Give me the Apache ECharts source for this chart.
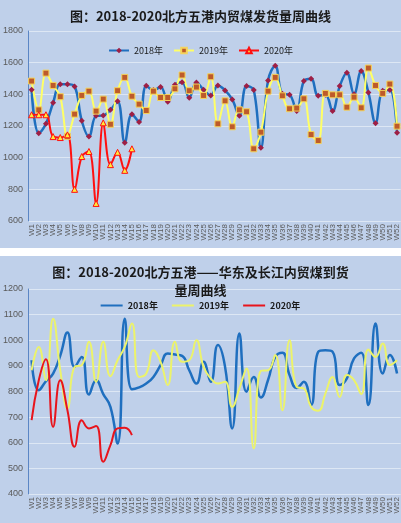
<!DOCTYPE html>
<html>
<head>
    <meta charset="utf-8">
    <title>北方五港内贸煤周曲线</title>
    <script src="https://cdn.jsdelivr.net/npm/echarts@6/dist/echarts.min.js"></script>
    <style>
        html, body {
            margin: 0;
            padding: 0;
            background: #ffffff;
        }

        .panel {
            position: absolute;
            left: 0;
            width: 401px;
            background-color: #bfd0ea;
        }
    </style>
</head>
<body>
<div id="ship-chart" class="panel" style="top:0;height:248px"></div>
<div id="arrive-chart" class="panel" style="top:256px;height:267px"></div>
<script>
    // 周次
    var weeks = ['W1', 'W2', 'W3', 'W4', 'W5', 'W6', 'W7', 'W8', 'W9', 'W10',
        'W11', 'W12', 'W13', 'W14', 'W15', 'W16', 'W17', 'W18', 'W19', 'W20',
        'W21', 'W22', 'W23', 'W24', 'W25', 'W26', 'W27', 'W28', 'W29', 'W30',
        'W31', 'W32', 'W33', 'W34', 'W35', 'W36', 'W37', 'W38', 'W39', 'W40',
        'W41', 'W42', 'W43', 'W44', 'W45', 'W46', 'W47', 'W48', 'W49', 'W50',
        'W51', 'W52'];

    // 发货量（上图）
    var ship2018 = [1429, 1154, 1214, 1347, 1463, 1463, 1450, 1233, 1133, 1264,
        1267, 1302, 1357, 1095, 1275, 1226, 1454, 1427, 1446, 1353,
        1461, 1477, 1378, 1475, 1429, 1393, 1456, 1425, 1368, 1264,
        1452, 1427, 1062, 1488, 1581, 1404, 1397, 1294, 1484, 1499,
        1391, 1397, 1294, 1452, 1537, 1401, 1547, 1412, 1218, 1423,
        1427, 1157];
    var ship2019 = [1484, 1302, 1534, 1456, 1385, 1135, 1275, 1393, 1420, 1294,
        1370, 1211, 1423, 1507, 1388, 1338, 1298, 1420, 1380, 1380,
        1435, 1522, 1423, 1446, 1393, 1511, 1214, 1359, 1195, 1302,
        1290, 1056, 1161, 1420, 1507, 1391, 1309, 1313, 1372, 1146,
        1108, 1406, 1397, 1397, 1319, 1382, 1315, 1566, 1456, 1406,
        1465, 1199];
    var ship2020 = [1271, 1271, 1271, 1133, 1127, 1144, 800, 1007, 1039, 711,
        1220, 956, 1034, 920, 1056];

    // 到货量（下图）
    var arrive2018 = [922, 805, 840, 870, 940, 1030, 896, 935, 788, 844,
        790, 740, 597, 1084, 809, 816, 831, 857, 903, 948,
        944, 939, 883, 831, 916, 838, 981, 896, 656, 1026,
        799, 857, 777, 845, 935, 951, 864, 814, 838, 747,
        955, 961, 955, 825, 851, 929, 951, 747, 1065, 870,
        942, 870];
    var arrive2019 = [883, 974, 844, 1084, 883, 734, 896, 903, 994, 838,
        994, 860, 922, 974, 1065, 857, 870, 961, 916, 825,
        994, 916, 922, 1000, 896, 851, 831, 838, 740, 812,
        890, 578, 881, 883, 942, 727, 1000, 818, 812, 740,
        725, 792, 857, 779, 864, 844, 790, 964, 935, 987,
        903, 922];
    var arrive2020 = [688, 844, 926, 662, 844, 727, 584, 688, 656, 665,
        526, 591, 656, 659, 630];

    var cjkFont = '"Noto Sans CJK SC", sans-serif';
    var labelGrey = '#595959';
    var titleStyle = {fontSize: 13, fontWeight: 'bold', color: '#1a1a1a', fontFamily: cjkFont};

    function baseAxes(min, max, step) {
        return {
            xAxis: {
                type: 'category',
                data: weeks,
                boundaryGap: true,
                axisLine: {show: false},
                axisTick: {show: false},
                axisLabel: {
                    interval: 0,
                    rotate: 90,
                    margin: 3,
                    fontSize: 8,
                    color: labelGrey,
                    fontFamily: 'Liberation Sans'
                }
            },
            yAxis: {
                type: 'value',
                min: min,
                max: max,
                interval: step,
                axisLine: {show: true, lineStyle: {color: '#5b86c5', width: 1}},
                axisTick: {show: false},
                axisLabel: {
                    margin: 5,
                    fontSize: 9,
                    color: labelGrey,
                    fontFamily: 'Liberation Sans',
                    formatter: function (v) {
                        return String(v);
                    }
                },
                splitLine: {lineStyle: {color: '#dde7f4', width: 1}}
            }
        };
    }

    /**
     * 上图：发货量
     */
    var shipChart = echarts.init(document.getElementById('ship-chart'));
    var shipAxes = baseAxes(600, 1800, 200);
    shipChart.setOption({
        animation: false,
        title: {
            text: '图：2018-2020北方五港内贸煤发货量周曲线',
            left: 'center',
            top: 5,
            textStyle: titleStyle
        },
        legend: {
            top: 41,
            left: 'center',
            itemWidth: 20,
            itemHeight: 7,
            itemGap: 10,
            textStyle: {fontSize: 9, color: '#1a1a1a', fontFamily: cjkFont},
            data: ['2018年', '2019年', '2020年']
        },
        grid: {left: 24.5, right: 0, top: 31, bottom: 27},
        xAxis: shipAxes.xAxis,
        yAxis: shipAxes.yAxis,
        series: [
            {
                name: '2018年',
                type: 'line',
                data: ship2018,
                smooth: 0.4,
                symbol: 'diamond',
                symbolSize: 6,
                lineStyle: {color: '#1f6fbf', width: 2.5},
                itemStyle: {color: '#9e1f45', borderWidth: 0}
            },
            {
                name: '2019年',
                type: 'line',
                data: ship2019,
                smooth: 0.4,
                symbol: 'rect',
                symbolSize: 6,
                lineStyle: {color: '#ffff66', width: 2},
                itemStyle: {color: '#bd5a2a', borderColor: '#f5d35a', borderWidth: 1}
            },
            {
                name: '2020年',
                type: 'line',
                data: ship2020,
                smooth: 0.4,
                symbol: 'triangle',
                symbolSize: 6,
                lineStyle: {color: '#ff1010', width: 2},
                itemStyle: {color: '#ffeb3b', borderColor: '#ff1010', borderWidth: 1}
            }
        ]
    });

    /**
     * 下图：华东及长江到货量（标题分两行）
     */
    var arriveChart = echarts.init(document.getElementById('arrive-chart'));
    var arriveAxes = baseAxes(400, 1200, 100);
    arriveChart.setOption({
        animation: false,
        title: [
            {
                text: '图：2018-2020北方五港——华东及长江内贸煤到货',
                left: 'center',
                top: 5,
                textStyle: titleStyle
            },
            {
                text: '量周曲线',
                left: 'center',
                top: 23,
                textStyle: titleStyle
            }
        ],
        legend: {
            top: 40,
            left: 'center',
            itemWidth: 22,
            itemHeight: 2,
            itemGap: 14,
            icon: 'rect',
            textStyle: {fontSize: 9, fontWeight: 'bold', color: '#1a1a1a', fontFamily: cjkFont},
            data: ['2018年', '2019年', '2020年']
        },
        grid: {left: 24.5, right: 0, top: 33, bottom: 29},
        xAxis: arriveAxes.xAxis,
        yAxis: arriveAxes.yAxis,
        series: [
            {
                name: '2018年',
                type: 'line',
                data: arrive2018,
                smooth: 0.5,
                showSymbol: false,
                lineStyle: {color: '#1f6fbf', width: 2.5},
                itemStyle: {color: '#1f6fbf'}
            },
            {
                name: '2019年',
                type: 'line',
                data: arrive2019,
                smooth: 0.5,
                showSymbol: false,
                lineStyle: {color: '#ecf36a', width: 2},
                itemStyle: {color: '#ecf36a'}
            },
            {
                name: '2020年',
                type: 'line',
                data: arrive2020,
                smooth: 0.5,
                showSymbol: false,
                lineStyle: {color: '#e8141c', width: 2},
                itemStyle: {color: '#e8141c'}
            }
        ]
    });
</script>
</body>
</html>
